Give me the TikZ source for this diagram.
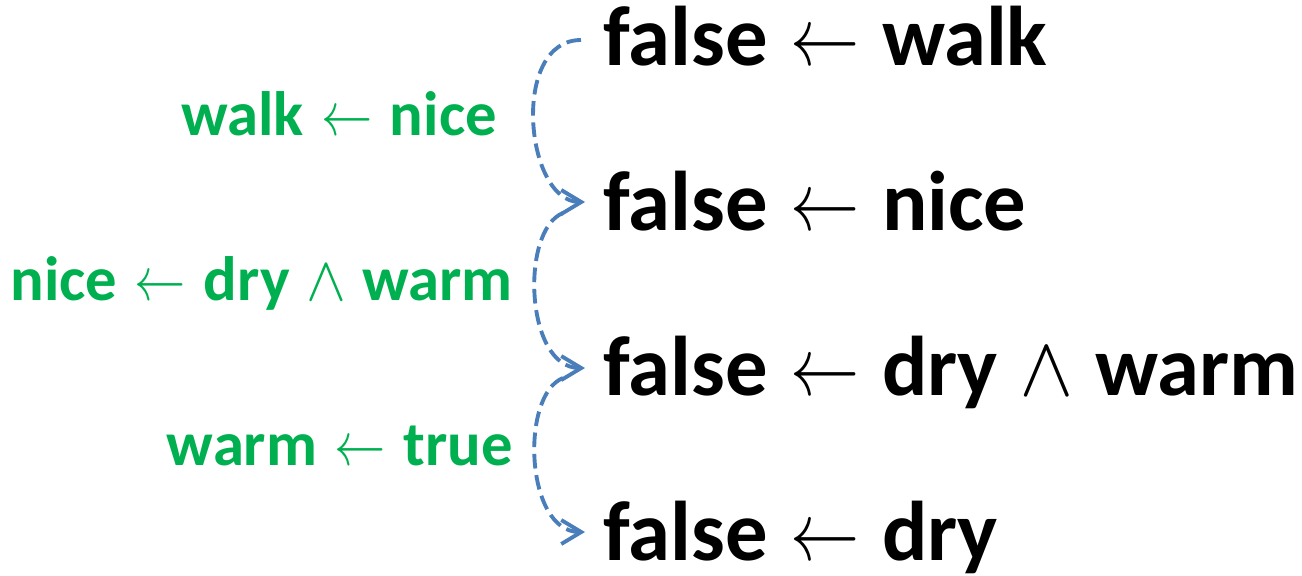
\documentclass[tikz,border=0pt]{standalone}
\usepackage{fontspec}
\usepackage{graphicx}
\setmainfont{Carlito}
\newfontfamily\opfont{latinmodern-math.otf}
\usetikzlibrary{arrows.meta}
\definecolor{rulegreen}{HTML}{00B050}
\definecolor{stepblue}{HTML}{4A7EBB}
% thin operators set in the math face
\newcommand{\larr}{\hspace{2.5pt}{\opfont\mdseries\scalebox{0.82}[1]{←}}\hspace{2.5pt}}
\newcommand{\conj}{\hspace{1pt}{\opfont\mdseries ∧}\hspace{1pt}}
\begin{document}
\begin{tikzpicture}[x=0.75pt,y=-0.75pt,
  goal/.style={anchor=base west,inner sep=0pt,font=\fontsize{63.5}{70}\selectfont\bfseries,text=black},
  rulelabel/.style={anchor=base east,inner sep=0pt,font=\fontsize{47}{54}\selectfont\bfseries,text=rulegreen},
  resolve/.style={draw=stepblue,line width=2.9pt,dash pattern=on 11pt off 5pt,
    -{Straight Barb[length=15pt,width=18pt,line width=2.9pt]}}]
\useasboundingbox (0,0) rectangle (1302,575);
% goal clauses
\node[goal] (g1) at (603,65) {false \larr{} walk};
\node[goal] (g2) at (603,230) {false \larr{} nice};
\node[goal] (g3) at (603,395) {false \larr{} dry \conj{} warm};
\node[goal] (g4) at (603,560) {false \larr{} dry};
% program clauses used in each step
\node[rulelabel] (r1) at (497,135) {walk \larr{} nice};
\node[rulelabel] (r2) at (513,300) {nice \larr{} dry \conj{} warm};
\node[rulelabel] (r3) at (513,465) {warm \larr{} true};
% resolution steps
\coordinate (s1) at (581,40);
\coordinate (e1) at (585,202);
\coordinate (s2) at (563,213);
\coordinate (e2) at (585,368);
\coordinate (s3) at (563,378);
\coordinate (e3) at (585,532);
\draw[resolve] (s1) .. controls (510,40) and (525,202) .. (e1);
\draw[resolve] (s2) .. controls (520,230) and (525,368) .. (e2);
\draw[resolve] (s3) .. controls (520,395) and (525,532) .. (e3);
\end{tikzpicture}
\end{document}
